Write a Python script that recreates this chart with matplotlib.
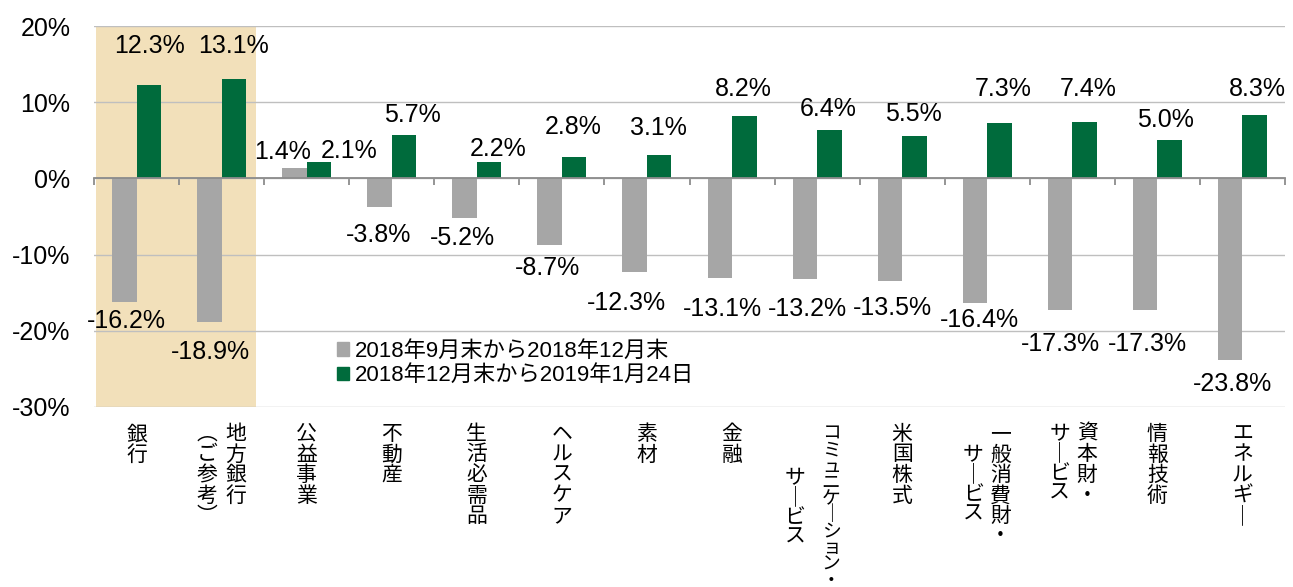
import matplotlib
matplotlib.use("Agg")
import matplotlib.pyplot as plt
from matplotlib.patches import Patch
import matplotlib.transforms as mtransforms
import numpy as np

plt.rcParams['font.family'] = ['Liberation Sans', 'Noto Sans CJK JP']

# ---- data ----
categories = [["銀行"], ["地方銀行", "（ご参考）"], ["公益事業"], ["不動産"], ["生活必需品"],
              ["ヘルスケア"], ["素材"], ["金融"], ["コミュニケーション・", "サービス"], ["米国株式"],
              ["一般消費財・", "サービス"], ["資本財・", "サービス"], ["情報技術"], ["エネルギー"]]
series1_name = "2018年9月末から2018年12月末"
series2_name = "2018年12月末から2019年1月24日"
series1 = [-16.2, -18.9, 1.4, -3.8, -5.2, -8.7, -12.3, -13.1, -13.2, -13.5, -16.4, -17.3, -17.3, -23.8]
series2 = [12.3, 13.1, 2.1, 5.7, 2.2, 2.8, 3.1, 8.2, 6.4, 5.5, 7.3, 7.4, 5.0, 8.3]
yticks = [-30, -20, -10, 0, 10, 20]

# ---- styles / label offsets (pixels) ----
GRAY = "#A6A6A6"
GREEN = "#006B3C"
HIGHLIGHT = "#F2E0BA"
off1 = [(2, -19), (1, -30), (-12, 16), (-1, -28), (-2, -20), (-2, -23), (-8, -31), (3, -31),
        (3, -30), (3, -27), (4, -17), (0, -34), (2, -34), (2, -24)]
off2 = [(1, 39), (0, 33), (30, 11), (8, 20), (9, 13), (-1, 30), (-1, 27), (-1, 27),
        (-1, 21), (-1, 22), (4, 34), (4, 33), (-4, 20), (3, 26)]
# vertical label layout per column: (x offset in category units, start offset px, pitch px, fontsize)
col_layout = {
    1: [(0.165, 0, 20.5, 15), (-0.175, 0, 20.5, 15)],
    8: [(0.165, 0, 16.3, 13.5), (-0.26, 44, 19.5, 15)],
    10: [(0.155, 0, 20.5, 15), (-0.165, 21, 19.5, 15)],
    11: [(0.175, 0, 20.5, 15), (-0.15, 0, 19.5, 15)],
}
default_layout = [(0.0, 0, 20.5, 15)]

fig = plt.figure(figsize=(12.93, 5.87), dpi=100)
ax = fig.add_axes([94/1293, 1-407/587, (1285-94)/1293, (407-26)/587])

n = len(categories)
x = np.arange(n)
w = 0.288

ax.axvspan(-0.476, 1.404, color=HIGHLIGHT, zorder=0, lw=0)
ax.bar(x - w/2, series1, width=w, color=GRAY, zorder=3, label=series1_name)
ax.bar(x + w/2, series2, width=w, color=GREEN, zorder=3, label=series2_name)

ax.set_xlim(-0.5, n - 0.5)
ax.set_ylim(-30, 20)
ax.set_yticks(yticks)
ax.set_yticklabels([f"{v}%" for v in yticks], fontsize=18)
ax.tick_params(axis='y', length=0, pad=17)
ax.yaxis.grid(True, color="#BFBFBF", lw=1.0, zorder=1)
ax.set_axisbelow(True)

for s in ['top', 'right', 'left']:
    ax.spines[s].set_visible(False)
ax.spines['bottom'].set_position(('data', 0))
ax.spines['bottom'].set_color("#8C8C8C")
ax.spines['bottom'].set_linewidth(1.3)
ax.spines['bottom'].set_zorder(4)
ax.set_xticks(np.arange(-0.5, n, 1.0))
ax.set_xticklabels([])
ax.tick_params(axis='x', length=5, color="#8C8C8C", width=1.3, direction='out')

# data labels
for i in range(n):
    for vals, offs, xo in ((series1, off1, -w/2), (series2, off2, w/2)):
        v = vals[i]
        ax.annotate(f"{v:.1f}%", xy=(i + xo, v), xytext=offs[i], textcoords='offset pixels',
                    ha='center', va='center', fontsize=18, zorder=5)

# vertical category labels (one character per row)
vmap = {'ー': '｜', '（': '︵', '）': '︶'}
trans = mtransforms.blended_transform_factory(ax.transData, ax.transAxes)
top_axes = 1 - (423 - 26) / (407 - 26)
for i, cols in enumerate(categories):
    layout = col_layout.get(i, default_layout)
    for j, col in enumerate(cols):
        dx, start, pitch, fs = layout[j]
        for k, ch in enumerate(col):
            ax.annotate(vmap.get(ch, ch), xy=(i + dx, top_axes), xycoords=trans,
                        xytext=(0, -(start + k * pitch)), textcoords='offset pixels',
                        ha='center', va='top', fontsize=fs, family=['Noto Sans CJK JP'],
                        annotation_clip=False)

fig.legend(handles=[Patch(color=GRAY), Patch(color=GREEN)],
           labels=[series1_name, series2_name], loc='upper left',
           bbox_to_anchor=(337/1293, 1-341/587), frameon=False,
           handlelength=0.55, handleheight=0.55, handletextpad=0.25,
           labelspacing=0.15, borderaxespad=0, borderpad=0, fontsize=16)

fig.savefig("out.png", dpi=100)
